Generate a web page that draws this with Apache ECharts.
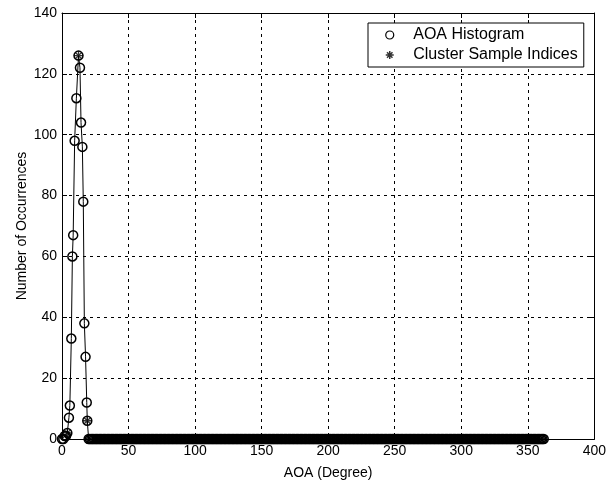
<!DOCTYPE html>
<html>
<head>
<meta charset="utf-8">
<script src="https://cdn.jsdelivr.net/npm/echarts@6/dist/echarts.min.js"></script>
<style>
  html, body { margin: 0; padding: 0; background: #fff; }
  #chart { width: 609px; height: 485px; }
</style>
</head>
<body>
<div id="chart"></div>
<script>
// Angle-of-arrival histogram: bins around the main peak
const aoaPeak   = [0, 1, 2, 3, 4, 5.2, 5.9, 7.0, 7.8, 8.4, 9.5, 10.8, 12.4, 13.5, 14.3, 15.3, 16.0, 16.8, 17.7, 18.6, 19.0];
const countPeak = [0, 0, 1, 1, 2, 7, 11, 33, 60, 67, 98, 112, 126, 122, 104, 96, 78, 38, 27, 12, 6];

// Remaining 1-degree bins (20 .. 362 deg), all empty
const tailStart = 20;
const tailCounts = [
  0,0,0,0,0,0,0,0,0,0, 0,0,0,0,0,0,0,0,0,0, 0,0,0,0,0,0,0,0,0,0, 0,0,0,0,0,0,0,0,0,0,
  0,0,0,0,0,0,0,0,0,0, 0,0,0,0,0,0,0,0,0,0, 0,0,0,0,0,0,0,0,0,0, 0,0,0,0,0,0,0,0,0,0,
  0,0,0,0,0,0,0,0,0,0, 0,0,0,0,0,0,0,0,0,0, 0,0,0,0,0,0,0,0,0,0, 0,0,0,0,0,0,0,0,0,0,
  0,0,0,0,0,0,0,0,0,0, 0,0,0,0,0,0,0,0,0,0, 0,0,0,0,0,0,0,0,0,0, 0,0,0,0,0,0,0,0,0,0,
  0,0,0,0,0,0,0,0,0,0, 0,0,0,0,0,0,0,0,0,0, 0,0,0,0,0,0,0,0,0,0, 0,0,0,0,0,0,0,0,0,0,
  0,0,0,0,0,0,0,0,0,0, 0,0,0,0,0,0,0,0,0,0, 0,0,0,0,0,0,0,0,0,0, 0,0,0,0,0,0,0,0,0,0,
  0,0,0,0,0,0,0,0,0,0, 0,0,0,0,0,0,0,0,0,0, 0,0,0,0,0,0,0,0,0,0, 0,0,0,0,0,0,0,0,0,0,
  0,0,0,0,0,0,0,0,0,0, 0,0,0,0,0,0,0,0,0,0, 0,0,0,0,0,0,0,0,0,0, 0,0,0,0,0,0,0,0,0,0,
  0,0,0,0,0,0,0,0,0,0, 0,0,0,0,0,0,0,0,0,0, 0,0,0
];

// Cluster sample indices (asterisk markers)
const clusterAoa   = [4.0, 12.4, 19.0];
const clusterCount = [2, 126, 6];

// Axis ticks
const xTicks = { min: 0, max: 400, step: 50 };
const yTicks = { min: 0, max: 140, step: 20 };

const histData = aoaPeak.map((a, i) => [a, countPeak[i]])
  .concat(tailCounts.map((c, i) => [tailStart + i, c]));
const clusterData = clusterAoa.map((a, i) => [a, clusterCount[i]]);

const FONT = '"Liberation Sans", Arial, sans-serif';
const asterisk = 'path://M5,0L5,10M0,5L10,5M1.6,1.6L8.4,8.4M1.6,8.4L8.4,1.6';
const gridLine = { show: true, lineStyle: { color: '#000', width: 1, type: [3, 4] } };
const inTick = { show: true, inside: true, length: 5, lineStyle: { color: '#000' } };
const axisLine = { show: true, onZero: false, lineStyle: { color: '#000', width: 1 } };
const tickLabel = { color: '#000', fontFamily: FONT, fontSize: 14 };

const chart = echarts.init(document.getElementById('chart'), null, { renderer: 'canvas' });
chart.setOption({
  backgroundColor: '#fff',
  animation: false,
  grid: { left: 62, top: 13, right: 6, bottom: 45, containLabel: false },
  xAxis: [
    {
      type: 'value', min: xTicks.min, max: xTicks.max, interval: xTicks.step,
      name: 'AOA (Degree)', nameLocation: 'middle', nameGap: 27,
      nameTextStyle: { color: '#000', fontFamily: FONT, fontSize: 14 },
      axisLine: axisLine, axisTick: inTick, splitLine: gridLine,
      axisLabel: Object.assign({ margin: 5, showMaxLabel: true }, tickLabel)
    },
    {
      type: 'value', position: 'top', min: xTicks.min, max: xTicks.max, interval: xTicks.step,
      axisLine: axisLine, axisTick: inTick, splitLine: { show: false }, axisLabel: { show: false }
    }
  ],
  yAxis: [
    {
      type: 'value', min: yTicks.min, max: yTicks.max, interval: yTicks.step,
      name: 'Number of Occurrences', nameLocation: 'middle', nameGap: 33,
      nameMoveOverlap: false,
      nameTextStyle: { color: '#000', fontFamily: FONT, fontSize: 14 },
      axisLine: axisLine, axisTick: inTick, splitLine: gridLine,
      axisLabel: Object.assign({ margin: 5 }, tickLabel)
    },
    {
      type: 'value', position: 'right', min: yTicks.min, max: yTicks.max, interval: yTicks.step,
      axisLine: axisLine, axisTick: inTick, splitLine: { show: false }, axisLabel: { show: false }
    }
  ],
  legend: {
    orient: 'vertical', left: 368, top: 23,
    padding: [4, 6, 4, 17],
    itemWidth: 37, itemHeight: 8, itemGap: 4,
    backgroundColor: '#fff', borderColor: '#000', borderWidth: 1,
    textStyle: { color: '#000', fontFamily: FONT, fontSize: 16, lineHeight: 16 },
    data: [
      { name: 'AOA Histogram', icon: 'circle',
        itemStyle: { color: 'transparent', borderColor: '#000', borderWidth: 1.2 } },
      { name: 'Cluster Sample Indices', icon: asterisk,
        itemStyle: { color: 'transparent', borderColor: '#000', borderWidth: 1.5 } }
    ]
  },
  series: [
    {
      name: 'AOA Histogram', type: 'line', data: histData,
      showAllSymbol: true, clip: false,
      symbol: 'circle', symbolSize: 9,
      itemStyle: { color: 'transparent', borderColor: '#000', borderWidth: 1.5 },
      lineStyle: { color: '#000', width: 1 },
      emphasis: { disabled: true }
    },
    {
      name: 'Cluster Sample Indices', type: 'scatter', data: clusterData,
      clip: false, symbol: asterisk, symbolSize: 9,
      itemStyle: { color: 'transparent', borderColor: '#000', borderWidth: 1.3 },
      emphasis: { disabled: true }, z: 3
    }
  ]
});
</script>
</body>
</html>
